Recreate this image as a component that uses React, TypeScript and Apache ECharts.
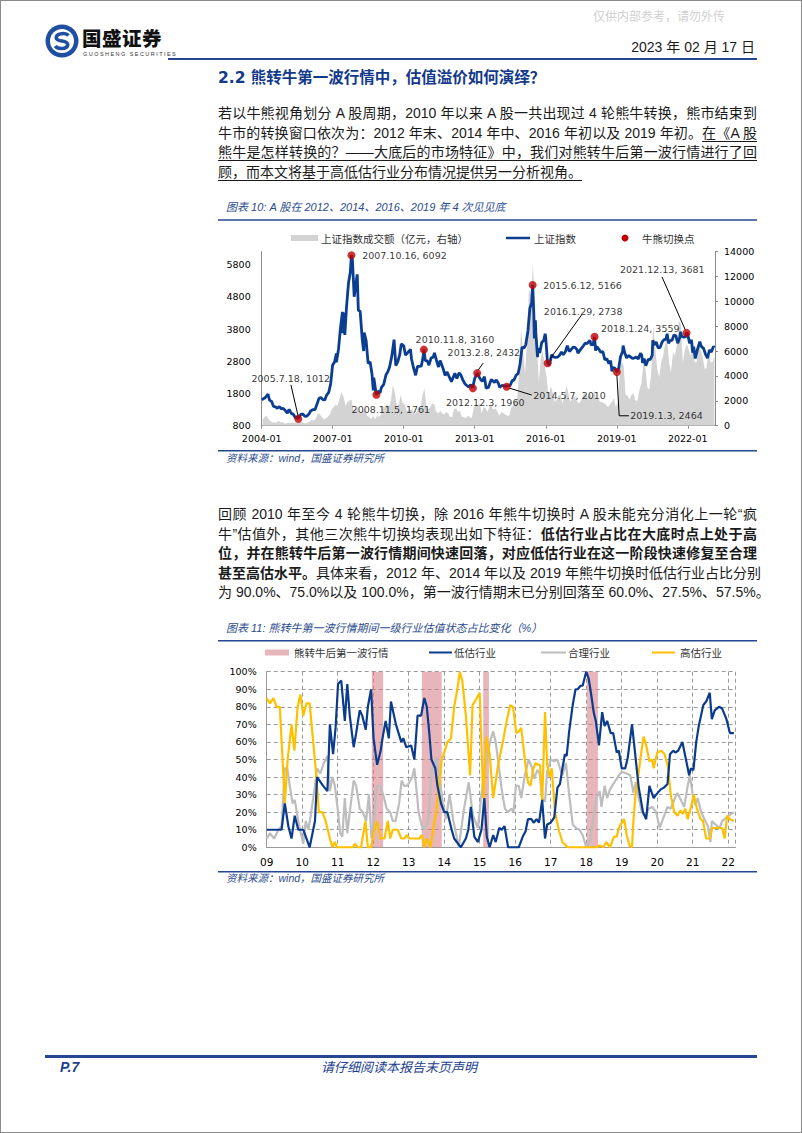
import React, { useEffect, useRef } from "react";
import * as echarts from "echarts";

const NUM_FONT = '"DejaVu Sans", Verdana, sans-serif';
const CJK_FONT = '"Noto Sans CJK SC", sans-serif';
const LAT_CJK = '"Liberation Sans", Arial, "Noto Sans CJK SC", sans-serif';
const RULE_BLUE = "#26478f";
const CAPTION_BLUE = "#2b4c8e";

// ---------------- Chart 10 data ----------------
const shIndex: [string, number][] = [
  ["2004-01-02", 1600], ["2004-02-27", 1675], ["2004-04-07", 1783], ["2004-04-30", 1595], ["2004-05-31", 1555], ["2004-06-30", 1400],
  ["2004-07-30", 1386], ["2004-08-31", 1342], ["2004-09-30", 1396], ["2004-10-29", 1320], ["2004-11-30", 1340], ["2004-12-31", 1267],
  ["2005-01-31", 1191], ["2005-02-28", 1306], ["2005-03-31", 1181], ["2005-04-29", 1159], ["2005-05-31", 1060], ["2005-06-06", 1034],
  ["2005-06-30", 1080], ["2005-07-18", 1012], ["2005-07-29", 1083], ["2005-08-31", 1162], ["2005-09-30", 1155], ["2005-10-28", 1092],
  ["2005-11-30", 1099], ["2005-12-30", 1161],
  ["2006-01-25", 1258], ["2006-02-28", 1299], ["2006-03-31", 1299], ["2006-04-28", 1440], ["2006-05-31", 1642], ["2006-06-30", 1672],
  ["2006-07-31", 1612], ["2006-08-31", 1601], ["2006-09-29", 1752], ["2006-10-31", 1837], ["2006-11-30", 2099], ["2006-12-29", 2675],
  ["2007-01-31", 2786], ["2007-02-26", 3040], ["2007-02-27", 2771], ["2007-03-30", 3183], ["2007-04-30", 3841], ["2007-05-29", 4335],
  ["2007-06-04", 3670], ["2007-06-20", 4311], ["2007-07-05", 3615], ["2007-07-31", 4471], ["2007-08-31", 5218], ["2007-09-28", 5552],
  ["2007-10-16", 6092], ["2007-10-31", 5954], ["2007-11-28", 4803], ["2007-12-28", 5261],
  ["2008-01-14", 5497], ["2008-01-31", 4383], ["2008-02-29", 4348], ["2008-03-31", 3472], ["2008-04-22", 3116], ["2008-04-30", 3693],
  ["2008-05-30", 3433], ["2008-06-30", 2736], ["2008-07-31", 2775], ["2008-08-29", 2397], ["2008-09-18", 1895], ["2008-09-26", 2293],
  ["2008-10-31", 1800], ["2008-11-05", 1761], ["2008-11-28", 1871], ["2008-12-31", 1821],
  ["2009-01-23", 1990], ["2009-02-27", 2082], ["2009-03-31", 2373], ["2009-04-30", 2477], ["2009-05-27", 2632], ["2009-06-30", 2959],
  ["2009-08-04", 3471], ["2009-08-31", 2667], ["2009-09-30", 2779], ["2009-10-30", 2996], ["2009-11-24", 3338], ["2009-12-31", 3277],
  ["2010-01-29", 2989], ["2010-02-26", 3051], ["2010-04-14", 3166], ["2010-04-30", 2870], ["2010-05-31", 2592], ["2010-07-02", 2363],
  ["2010-07-30", 2638], ["2010-08-31", 2639], ["2010-09-30", 2656], ["2010-10-29", 2979], ["2010-11-08", 3160], ["2010-11-30", 2820],
  ["2010-12-31", 2808],
  ["2011-01-25", 2677], ["2011-02-28", 2905], ["2011-03-31", 2928], ["2011-04-18", 3057], ["2011-05-31", 2743], ["2011-06-20", 2622],
  ["2011-07-15", 2820], ["2011-08-31", 2568], ["2011-09-30", 2359], ["2011-10-31", 2468], ["2011-11-30", 2333], ["2011-12-31", 2199],
  ["2012-01-06", 2163], ["2012-02-29", 2428], ["2012-03-30", 2262], ["2012-05-04", 2440], ["2012-05-31", 2373], ["2012-06-29", 2225],
  ["2012-07-31", 2103], ["2012-08-31", 2047], ["2012-09-26", 2004], ["2012-10-31", 2069], ["2012-11-30", 1980], ["2012-12-03", 1960],
  ["2012-12-31", 2269],
  ["2013-01-31", 2385], ["2013-02-08", 2432], ["2013-03-29", 2237], ["2013-04-26", 2178], ["2013-05-29", 2324], ["2013-06-25", 1959],
  ["2013-07-31", 1994], ["2013-09-12", 2237], ["2013-10-31", 2141], ["2013-11-29", 2220], ["2013-12-31", 2116],
  ["2014-01-20", 1991], ["2014-02-28", 2056], ["2014-03-31", 2033], ["2014-04-30", 2026], ["2014-05-07", 2010], ["2014-05-30", 2039],
  ["2014-06-30", 2048], ["2014-07-31", 2202], ["2014-08-29", 2217], ["2014-09-30", 2364], ["2014-10-31", 2420], ["2014-11-28", 2683],
  ["2014-12-31", 3235],
  ["2015-01-30", 3210], ["2015-02-27", 3310], ["2015-03-31", 3748], ["2015-04-30", 4442], ["2015-05-28", 4620], ["2015-06-12", 5166],
  ["2015-06-30", 4277], ["2015-07-08", 3507], ["2015-07-24", 4070], ["2015-07-31", 3664], ["2015-08-26", 2927], ["2015-08-31", 3206],
  ["2015-09-30", 3053], ["2015-10-30", 3383], ["2015-11-30", 3445], ["2015-12-22", 3651], ["2015-12-31", 3539],
  ["2016-01-29", 2738], ["2016-02-29", 2688], ["2016-03-31", 3004], ["2016-04-29", 2938], ["2016-05-31", 2917], ["2016-06-30", 2930],
  ["2016-07-29", 2979], ["2016-08-31", 3085], ["2016-09-30", 3005], ["2016-10-31", 3100], ["2016-11-29", 3282], ["2016-12-30", 3104],
  ["2017-01-26", 3159], ["2017-02-28", 3242], ["2017-03-31", 3223], ["2017-04-28", 3155], ["2017-05-10", 3052], ["2017-06-30", 3192],
  ["2017-07-31", 3273], ["2017-08-31", 3361], ["2017-09-29", 3349], ["2017-11-13", 3447], ["2017-11-30", 3317], ["2017-12-29", 3307],
  ["2018-01-24", 3559], ["2018-02-09", 3129], ["2018-02-28", 3259], ["2018-03-30", 3169], ["2018-04-27", 3082], ["2018-05-31", 3095],
  ["2018-06-29", 2847], ["2018-07-31", 2876], ["2018-08-31", 2725], ["2018-09-28", 2821], ["2018-10-18", 2486], ["2018-10-31", 2603],
  ["2018-11-30", 2588], ["2018-12-28", 2494],
  ["2019-01-03", 2464], ["2019-01-31", 2585], ["2019-02-28", 2941], ["2019-03-29", 3091], ["2019-04-08", 3288], ["2019-04-30", 3078],
  ["2019-05-31", 2899], ["2019-06-28", 2979], ["2019-07-31", 2933], ["2019-08-30", 2886], ["2019-09-30", 2905], ["2019-10-31", 2929],
  ["2019-11-29", 2872], ["2019-12-31", 3050],
  ["2020-01-23", 2977], ["2020-02-03", 2746], ["2020-02-28", 2880], ["2020-03-23", 2660], ["2020-04-30", 2860], ["2020-05-29", 2852],
  ["2020-06-30", 2985], ["2020-07-09", 3451], ["2020-07-31", 3310], ["2020-08-31", 3396], ["2020-09-30", 3218], ["2020-10-30", 3225],
  ["2020-11-30", 3392], ["2020-12-31", 3473],
  ["2021-01-29", 3483], ["2021-02-18", 3655], ["2021-03-09", 3360], ["2021-03-31", 3442], ["2021-04-30", 3447], ["2021-05-31", 3615],
  ["2021-06-30", 3591], ["2021-07-28", 3361], ["2021-08-31", 3544], ["2021-09-13", 3715], ["2021-09-30", 3568], ["2021-10-29", 3547],
  ["2021-11-30", 3564], ["2021-12-13", 3681], ["2021-12-31", 3640],
  ["2022-01-28", 3361], ["2022-02-28", 3462], ["2022-03-15", 3064], ["2022-03-31", 3252], ["2022-04-26", 2886], ["2022-05-31", 3186],
  ["2022-07-04", 3405], ["2022-07-29", 3253], ["2022-08-31", 3202], ["2022-09-30", 3024], ["2022-10-31", 2893], ["2022-11-30", 3151],
  ["2022-12-30", 3089], ["2023-01-31", 3255], ["2023-02-17", 3224],
];

// monthly turnover (亿元), starting 2004-01
const turnoverStartYear = 2004;
const turnoverMonthly: number[] = [
  500, 700, 800, 500, 350, 250, 250, 250, 400, 300, 250, 200, // 2004
  180, 250, 220, 250, 220, 350, 250, 350, 300, 200, 200, 250, // 2005
  350, 450, 400, 600, 1000, 900, 700, 500, 600, 700, 900, 1300, // 2006
  1500, 1700, 1600, 2200, 2700, 2300, 1600, 1900, 2000, 2100, 1300, 1200, // 2007
  1500, 1000, 1100, 1300, 1200, 800, 700, 500, 800, 500, 800, 700, // 2008
  900, 1500, 1500, 1700, 1500, 2000, 3300, 2600, 1600, 1700, 2500, 1800, // 2009
  1700, 1200, 1200, 1300, 1300, 900, 1100, 1500, 1300, 2500, 3000, 1500, // 2010
  1300, 1500, 1800, 1700, 1100, 1000, 1200, 1000, 900, 1100, 1000, 700, // 2011
  700, 1300, 1400, 1100, 1200, 700, 700, 600, 800, 700, 600, 1400, // 2012
  1700, 1600, 1800, 1000, 1500, 1400, 1100, 1600, 1600, 1300, 1400, 1100, // 2013
  800, 1100, 1000, 900, 800, 800, 1500, 1600, 2000, 2100, 4500, 7800, // 2014
  6000, 4200, 7000, 11000, 10500, 13000, 9000, 6500, 3500, 5500, 6000, 4800, // 2015
  3800, 2200, 3200, 2700, 1900, 2100, 2400, 2500, 1800, 2300, 3200, 2600, // 2016
  1900, 2200, 2300, 2100, 1800, 1900, 2200, 2700, 2400, 2300, 2700, 2100, // 2017
  2900, 2100, 2200, 1900, 1900, 1800, 1700, 1500, 1700, 1900, 2200, 1500, // 2018
  1800, 4400, 5200, 4800, 2500, 2400, 2100, 2500, 2600, 2000, 2000, 2900, // 2019
  3400, 5000, 4700, 3100, 2900, 4300, 8000, 6300, 4600, 3900, 5100, 5600, // 2020
  6600, 7000, 5100, 4300, 5900, 5600, 6600, 8500, 8100, 5100, 6100, 6600, // 2021
  6100, 5600, 7000, 5100, 5100, 6600, 6100, 5600, 4600, 4600, 6100, 5100, // 2022
  5100, 5600, // 2023
];

const switchDates = ["2005.7.18", "2007.10.16", "2008.11.5", "2010.11.8", "2012.12.3", "2013.2.8", "2014.5.7", "2015.6.12", "2016.1.29", "2018.1.24", "2019.1.3", "2021.12.13"];
const switchValues = [1012, 6092, 1761, 3160, 1960, 2432, 2010, 5166, 2738, 3559, 2464, 3681];

// label placement (pixels relative to each dot) - layout only
const switchLabelPos: { dx: number; dy: number; align: string }[] = [
  { dx: -7.5, dy: -40, align: "center" },
  { dx: 10.7, dy: 0, align: "left" },
  { dx: 14.5, dy: 14.3, align: "center" },
  { dx: 31, dy: -10.6, align: "center" },
  { dx: 12.3, dy: 14, align: "center" },
  { dx: 6.7, dy: -20.6, align: "center" },
  { dx: 26.6, dy: 8.6, align: "left" },
  { dx: 10.6, dy: 0, align: "left" },
  { dx: -3.7, dy: -52, align: "left" },
  { dx: 6.4, dy: -8, align: "left" },
  { dx: 13.3, dy: 43.7, align: "left" },
  { dx: -24.3, dy: -63.4, align: "center" },
];
const switchLeaders: (number[][] | null)[] = [
  [[0, -2], [-7.4, -34]],
  null,
  null,
  null,
  null,
  [[1, -3], [6, -10]],
  [[3, 1.5], [25, 8.3]],
  null,
  [[2.3, -4], [34, -48.3]],
  null,
  [[0, 3], [2.3, 43.7], [12, 43.7]],
  [[-1.3, -3], [-24.6, -56]],
];

// ---------------- Chart 11 data ----------------
const lowShare: [number, number][] = [
  [2009.0, 10], [2009.42, 10], [2009.51, 25], [2009.61, 12], [2009.7, 5], [2009.79, 18], [2009.89, 10], [2010.03, 10],
  [2010.21, 0], [2010.36, 15], [2010.42, 40], [2010.59, 35], [2010.71, 32], [2010.78, 70], [2010.87, 53], [2010.94, 68],
  [2011.01, 93], [2011.1, 95], [2011.2, 72], [2011.27, 93], [2011.34, 75], [2011.45, 57], [2011.52, 65], [2011.62, 78],
  [2011.69, 75], [2011.79, 67], [2011.85, 80], [2011.94, 90], [2012.01, 62], [2012.11, 47], [2012.21, 55], [2012.27, 63],
  [2012.35, 72], [2012.44, 62], [2012.5, 83], [2012.64, 70], [2012.79, 60], [2012.85, 62], [2012.93, 57], [2013.07, 58],
  [2013.16, 50], [2013.25, 75], [2013.35, 75], [2013.44, 85], [2013.51, 80], [2013.58, 65], [2013.64, 50], [2013.75, 45],
  [2013.81, 35], [2013.91, 25], [2014.0, 20], [2014.09, 20], [2014.21, 10], [2014.28, 5], [2014.47, 0], [2014.61, 5],
  [2014.68, 10], [2014.75, 23], [2014.85, 6], [2014.95, 3], [2015.05, 10], [2015.13, 28], [2015.2, 6], [2015.28, 0],
  [2015.38, 7], [2015.45, 3], [2015.55, 11], [2015.62, 10], [2015.7, 12], [2015.8, 0], [2016.1, 0], [2016.21, 6],
  [2016.29, 9], [2016.36, 16], [2016.46, 16], [2016.52, 14], [2016.6, 16], [2016.67, 14], [2016.76, 27], [2016.84, 5],
  [2016.9, 13], [2017.0, 14], [2017.1, 17], [2017.19, 34], [2017.26, 36], [2017.33, 45], [2017.4, 53], [2017.45, 52],
  [2017.52, 66], [2017.62, 81], [2017.7, 90], [2017.76, 90], [2017.84, 92], [2017.9, 92], [2018.0, 100], [2018.07, 96],
  [2018.14, 87], [2018.21, 77], [2018.27, 72], [2018.36, 58], [2018.45, 77], [2018.52, 69], [2018.59, 72], [2018.69, 65],
  [2018.76, 65], [2018.86, 54], [2018.92, 55], [2019.0, 45], [2019.1, 45], [2019.17, 51], [2019.29, 70], [2019.38, 53],
  [2019.48, 34], [2019.6, 20], [2019.69, 16], [2019.78, 35], [2019.9, 28], [2019.97, 30], [2020.1, 33], [2020.19, 34],
  [2020.29, 36], [2020.36, 53], [2020.45, 55], [2020.51, 54], [2020.59, 55], [2020.71, 60], [2020.86, 45], [2020.9, 41],
  [2020.95, 45], [2021.02, 44], [2021.1, 60], [2021.17, 69], [2021.3, 81], [2021.38, 83], [2021.48, 88], [2021.54, 73],
  [2021.62, 78], [2021.74, 80], [2021.83, 79], [2021.95, 73], [2022.05, 65], [2022.16, 65],
];
const fairShare: [number, number][] = [
  [2009.0, 5], [2009.09, 8], [2009.21, 5], [2009.33, 10], [2009.42, 12], [2009.51, 45], [2009.58, 45], [2009.65, 35],
  [2009.73, 25], [2009.79, 27], [2009.89, 15], [2009.96, 8], [2010.03, 2], [2010.1, 15], [2010.17, 10], [2010.24, 18],
  [2010.36, 35], [2010.42, 45], [2010.51, 42], [2010.61, 48], [2010.71, 52], [2010.78, 32], [2010.85, 40], [2010.92, 35],
  [2011.01, 20], [2011.07, 8], [2011.13, 6], [2011.2, 28], [2011.27, 8], [2011.34, 20], [2011.45, 38], [2011.52, 35],
  [2011.62, 22], [2011.71, 20], [2011.8, 15], [2011.88, 30], [2011.95, 5], [2012.02, 15], [2012.1, 35], [2012.2, 35],
  [2012.28, 30], [2012.38, 22], [2012.48, 20], [2012.55, 15], [2012.63, 15], [2012.73, 25], [2012.8, 38], [2012.87, 35],
  [2012.95, 35], [2013.05, 38], [2013.1, 40], [2013.16, 45], [2013.28, 20], [2013.37, 12], [2013.45, 10], [2013.55, 15],
  [2013.65, 44], [2013.79, 51], [2013.95, 27], [2014.05, 16], [2014.15, 30], [2014.25, 16], [2014.41, 0], [2014.55, 21],
  [2014.69, 37], [2014.81, 18], [2014.95, 11], [2015.05, 30], [2015.14, 45], [2015.29, 60], [2015.38, 66], [2015.45, 60],
  [2015.52, 49], [2015.62, 33], [2015.71, 22], [2015.79, 20], [2015.89, 22], [2015.95, 20], [2016.02, 35], [2016.1, 35],
  [2016.17, 28], [2016.27, 41], [2016.38, 50], [2016.46, 46], [2016.54, 39], [2016.62, 44], [2016.69, 42], [2016.76, 28],
  [2016.84, 26], [2016.9, 43], [2017.0, 50], [2017.1, 49], [2017.19, 50], [2017.26, 45], [2017.33, 41], [2017.43, 48],
  [2017.52, 30], [2017.62, 13], [2017.71, 11], [2017.81, 10], [2017.9, 7], [2018.0, 0], [2018.1, 3], [2018.19, 15],
  [2018.29, 28], [2018.38, 32], [2018.43, 23], [2018.52, 35], [2018.59, 28], [2018.67, 33], [2018.76, 36], [2018.86, 39],
  [2018.92, 41], [2019.0, 43], [2019.14, 42], [2019.24, 41], [2019.33, 31], [2019.4, 37], [2019.48, 28], [2019.57, 20],
  [2019.67, 18], [2019.76, 22], [2019.86, 23], [2019.97, 20], [2020.07, 11], [2020.16, 16], [2020.29, 23], [2020.38, 22],
  [2020.5, 28], [2020.57, 31], [2020.69, 26], [2020.76, 23], [2020.86, 35], [2020.92, 41], [2021.0, 30], [2021.07, 24],
  [2021.14, 28], [2021.24, 20], [2021.33, 16], [2021.43, 12], [2021.5, 3], [2021.54, 15], [2021.64, 13], [2021.76, 11],
  [2021.83, 15], [2021.9, 16], [2022.0, 18], [2022.16, 20],
];
const highShare: [number, number][] = [
  [2009.0, 85], [2009.09, 82], [2009.19, 85], [2009.28, 80], [2009.37, 80], [2009.51, 25], [2009.59, 50], [2009.7, 70],
  [2009.78, 55], [2009.87, 80], [2009.95, 87], [2010.03, 75], [2010.12, 82], [2010.21, 82], [2010.31, 60], [2010.4, 40],
  [2010.47, 20], [2010.57, 20], [2010.66, 15], [2010.78, 5], [2010.85, 0], [2010.92, 3], [2010.98, 0], [2011.43, 0],
  [2011.48, 2], [2011.57, 0], [2011.66, 0], [2011.78, 15], [2011.85, 0], [2011.94, 0], [2012.01, 8], [2012.1, 15],
  [2012.21, 5], [2012.32, 5], [2012.41, 15], [2012.48, 5], [2012.55, 10], [2012.69, 10], [2012.79, 5], [2012.88, 5],
  [2012.94, 7], [2013.02, 5], [2013.16, 5], [2013.3, 5], [2013.37, 7], [2013.44, 0], [2013.51, 5], [2013.61, 0],
  [2013.69, 10], [2013.77, 20], [2013.83, 30], [2013.93, 50], [2014.02, 55], [2014.09, 60], [2014.19, 62], [2014.28, 80],
  [2014.37, 90], [2014.44, 100], [2014.51, 95], [2014.61, 75], [2014.73, 41], [2014.8, 81], [2014.92, 85], [2015.0, 88],
  [2015.1, 28], [2015.19, 63], [2015.28, 53], [2015.38, 28], [2015.52, 47], [2015.67, 62], [2015.76, 72], [2015.86, 81],
  [2015.94, 80], [2016.03, 65], [2016.1, 66], [2016.17, 68], [2016.29, 47], [2016.36, 37], [2016.43, 35], [2016.5, 44],
  [2016.57, 48], [2016.64, 47], [2016.7, 47], [2016.76, 26], [2016.84, 77], [2016.9, 47], [2016.97, 40], [2017.03, 45],
  [2017.12, 20], [2017.24, 9], [2017.33, 3], [2017.48, 0], [2018.29, 0], [2018.38, 1], [2018.48, 0], [2018.57, 3],
  [2018.67, 0], [2018.78, 6], [2018.86, 6], [2018.92, 11], [2018.97, 13], [2019.07, 16], [2019.14, 7], [2019.22, 1],
  [2019.29, 0], [2019.33, 15], [2019.38, 28], [2019.48, 43], [2019.55, 54], [2019.62, 63], [2019.69, 58], [2019.78, 49],
  [2019.86, 50], [2019.9, 45], [2020.0, 54], [2020.12, 55], [2020.21, 53], [2020.31, 45], [2020.38, 30], [2020.48, 20],
  [2020.57, 18], [2020.65, 21], [2020.72, 19], [2020.79, 22], [2020.86, 16], [2020.95, 23], [2021.03, 30], [2021.12, 22],
  [2021.22, 16], [2021.29, 15], [2021.38, 5], [2021.48, 5], [2021.55, 11], [2021.67, 11], [2021.83, 11], [2021.9, 5],
  [2021.97, 18], [2022.05, 16], [2022.16, 15],
];
const firstWavePeriods: [number, number][] = [
  [2011.96, 2012.28], [2013.37, 2013.93], [2015.1, 2015.26], [2018.02, 2018.33],
];

const toYear = (s: string) => {
  const p = s.split(/[-.]/).map(Number);
  return p[0] + (p[1] - 1) / 12 + ((p[2] || 1) - 1) / 365;
};

const txt = (x: number, y: number, text: string, font: string, fill: string, align = "left") => ({
  type: "text",
  x,
  y,
  style: { text, font, fill, align, verticalAlign: "middle", textAlign: align, textVerticalAlign: "middle" },
});
const hline = (x1: number, x2: number, y: number, stroke: string, w: number) => ({
  type: "line",
  shape: { x1, y1: y, x2, y2: y },
  style: { stroke, lineWidth: w },
});

const CAPTION_FONT = 'italic 11px "Liberation Sans", "Noto Sans CJK SC", sans-serif';
const LEGEND_FONT = '10.5px "Noto Sans CJK SC", sans-serif';
const SOURCE_FONT = 'italic 10.5px "Liberation Sans", "Noto Sans CJK SC", sans-serif';

function graphic1() {
  return [
    txt(226, 12, "图表 10: A 股在 2012、2014、2016、2019 年 4 次见见底", CAPTION_FONT, CAPTION_BLUE),
    hline(218, 757, 25, RULE_BLUE, 1.5),
    { type: "rect", shape: { x: 291, y: 40, width: 27, height: 6 }, style: { fill: "#d3d3d3" } },
    txt(321, 43, "上证指数成交额（亿元，右轴）", LEGEND_FONT, "#333"),
    hline(506, 530, 43, "#0b3d91", 2.5),
    txt(534, 43, "上证指数", LEGEND_FONT, "#333"),
    { type: "circle", shape: { cx: 625, cy: 43, r: 3.5 }, style: { fill: "#c00000" } },
    txt(642, 43, "牛熊切换点", LEGEND_FONT, "#333"),
    hline(218, 757, 255.7, RULE_BLUE, 1.5),
    txt(226, 262.5, "资料来源：wind，国盛证券研究所", SOURCE_FONT, CAPTION_BLUE),
  ];
}

function graphic2() {
  return [
    txt(226, 12.5, "图表 11: 熊转牛第一波行情期间一级行业估值状态占比变化（%）", CAPTION_FONT, CAPTION_BLUE),
    hline(218, 757, 25.7, RULE_BLUE, 1.5),
    { type: "rect", shape: { x: 265, y: 34.5, width: 24, height: 6 }, style: { fill: "#e8b5ba" } },
    txt(294, 37.5, "熊转牛后第一波行情", LEGEND_FONT, "#333"),
    hline(429, 452, 37.5, "#0b3b8c", 2),
    txt(454, 37.5, "低估行业", LEGEND_FONT, "#333"),
    hline(541, 566, 37.5, "#bdbdbd", 2),
    txt(568, 37.5, "合理行业", LEGEND_FONT, "#333"),
    hline(652, 675, 37.5, "#ffc000", 2),
    txt(680, 37.5, "高估行业", LEGEND_FONT, "#333"),
    hline(218, 757, 256.7, RULE_BLUE, 1.5),
    txt(226, 262.5, "资料来源：wind，国盛证券研究所", SOURCE_FONT, CAPTION_BLUE),
  ];
}

function option1() {
  const axisGray = "#8c8c8c";
  const numLabel = { fontFamily: NUM_FONT, fontSize: 9.5, color: "#000" };
  const plain = (v: number) => String(v);
  return {
    animation: false,
    grid: { left: 261.7, top: 56.7, width: 453.3, height: 174 },
    xAxis: {
      type: "value",
      min: 2004,
      max: 2023.15,
      interval: 3,
      axisLine: { show: true, lineStyle: { color: axisGray } },
      axisTick: { show: true, length: 3, lineStyle: { color: axisGray } },
      splitLine: { show: false },
      axisLabel: { ...numLabel, margin: 8, showMaxLabel: false, formatter: (v: number) => `${v}-01` },
    },
    yAxis: [
      {
        type: "value",
        min: 800,
        max: 6200,
        interval: 1000,
        axisLine: { show: true, lineStyle: { color: axisGray } },
        axisTick: { show: false },
        splitLine: { show: false },
        axisLabel: { ...numLabel, margin: 11, showMaxLabel: false, formatter: plain },
      },
      {
        type: "value",
        position: "right",
        min: 0,
        max: 14000,
        interval: 2000,
        axisLine: { show: true, lineStyle: { color: axisGray } },
        axisTick: { show: true, length: 3, lineStyle: { color: axisGray } },
        splitLine: { show: false },
        axisLabel: { ...numLabel, margin: 9, formatter: plain },
      },
    ],
    graphic: graphic1(),
    series: [
      {
        type: "line",
        name: "上证指数成交额（亿元，右轴）",
        yAxisIndex: 1,
        symbol: "none",
        data: turnoverMonthly.map((v, i) => [turnoverStartYear + (i + 0.5) / 12, v]),
        lineStyle: { width: 0, opacity: 0 },
        areaStyle: { color: "#d3d3d3", opacity: 1 },
        z: 1,
      },
      {
        type: "line",
        name: "上证指数",
        symbol: "none",
        data: shIndex.map(([d, v]) => [toYear(d), v]),
        lineStyle: { color: "#0b3d91", width: 2.8 },
        z: 2,
      },
      {
        type: "scatter",
        name: "牛熊切换点",
        symbolSize: 8,
        itemStyle: { color: "#c00000" },
        z: 3,
        data: switchDates.map((d, i) => ({
          value: [toYear(d), switchValues[i]],
          label: {
            show: true,
            position: "inside",
            offset: [switchLabelPos[i].dx, switchLabelPos[i].dy],
            align: switchLabelPos[i].align,
            verticalAlign: "middle",
            color: "#000",
            fontFamily: NUM_FONT,
            fontSize: 9.5,
            formatter: `${d}, ${switchValues[i]}`,
          },
        })),
      },
    ],
  };
}

function option2() {
  const gridGray = "#9a9a9a";
  const numLabel = { fontFamily: NUM_FONT, color: "#000" };
  return {
    animation: false,
    grid: { left: 266.7, top: 56.7, width: 468.6, height: 175.6 },
    xAxis: {
      type: "value",
      min: 2009,
      max: 2022.2,
      interval: 1,
      axisLine: { show: true, lineStyle: { color: gridGray } },
      axisTick: { show: false },
      splitLine: { show: true, lineStyle: { color: gridGray, type: [4, 3], width: 1 } },
      axisLabel: { ...numLabel, fontSize: 10.5, margin: 9, showMaxLabel: false, formatter: (v: number) => String(v).slice(2) },
    },
    yAxis: {
      type: "value",
      min: 0,
      max: 100,
      interval: 10,
      axisLine: { show: true, lineStyle: { color: gridGray } },
      axisTick: { show: false },
      splitLine: { show: true, lineStyle: { color: gridGray, type: [4, 3], width: 1 } },
      axisLabel: { ...numLabel, fontSize: 9.5, margin: 10, formatter: "{value}%" },
    },
    graphic: graphic2(),
    series: [
      {
        type: "line",
        name: "熊转牛后第一波行情",
        data: [],
        z: 1,
        markArea: {
          silent: true,
          itemStyle: { color: "rgba(214,120,130,0.55)" },
          data: firstWavePeriods.map(([a, b]) => [{ xAxis: a }, { xAxis: b }]),
        },
      },
      { type: "line", name: "合理行业", symbol: "none", data: fairShare, lineStyle: { color: "#bdbdbd", width: 2.2 }, z: 2 },
      { type: "line", name: "高估行业", symbol: "none", data: highShare, lineStyle: { color: "#ffc000", width: 2.2 }, z: 3 },
      { type: "line", name: "低估行业", symbol: "none", data: lowShare, lineStyle: { color: "#0b3b8c", width: 2.2 }, z: 4 },
    ],
  };
}

const lineBase: React.CSSProperties = {
  position: "absolute",
  left: 218,
  width: 539,
  height: 20,
  lineHeight: "20px",
  fontSize: 14,
  color: "#1a1a1a",
  fontFamily: LAT_CJK,
  textAlign: "justify",
  whiteSpace: "nowrap",
};

function TL({ y, children, last }: { y: number; children: any; last?: boolean }) {
  return (
    <div style={{ ...lineBase, top: y - 10, textAlignLast: (last ? "left" : "justify") as any }}>{children}</div>
  );
}

const U = ({ children }: { children: any }) => (
  <span style={{ textDecoration: "underline", textUnderlineOffset: "3px" }}>{children}</span>
);
const B = ({ children }: { children: any }) => <span style={{ fontWeight: 700 }}>{children}</span>;

export default function App() {
  const ref1 = useRef<HTMLDivElement>(null);
  const ref2 = useRef<HTMLDivElement>(null);

  useEffect(() => {
    document.body.style.margin = "0";
    const c1 = echarts.init(ref1.current!, undefined, { renderer: "svg" });
    c1.setOption(option1() as any);
    const leaders: any[] = [];
    switchDates.forEach((d, i) => {
      const rel = switchLeaders[i];
      if (!rel) return;
      const p = c1.convertToPixel({ xAxisIndex: 0, yAxisIndex: 0 }, [toYear(d), switchValues[i]]) as number[];
      leaders.push({
        type: "polyline",
        z: 2.5,
        shape: { points: rel.map(([dx, dy]) => [p[0] + dx, p[1] + dy]) },
        style: { stroke: "#000", lineWidth: 1, fill: null },
      });
    });
    c1.setOption({ graphic: [...graphic1(), ...leaders] } as any);

    const c2 = echarts.init(ref2.current!, undefined, { renderer: "svg" });
    c2.setOption(option2() as any);
    return () => {
      c1.dispose();
      c2.dispose();
    };
  }, []);

  return (
    <div style={{ position: "absolute", left: 0, top: 0, width: 802, height: 1133, background: "#fff", overflow: "hidden" }}>
      {/* header */}
      <div style={{ position: "absolute", left: 593, top: 8, fontSize: 12, lineHeight: "16px", color: "#d0d0d0", fontFamily: CJK_FONT, whiteSpace: "nowrap" }}>
        仅供内部参考，请勿外传
      </div>
      <svg style={{ position: "absolute", left: 45, top: 24 }} width={34} height={34} viewBox="0 0 34 34">
        <circle cx="17" cy="17" r="16.5" fill="#1f4ea3" />
        <circle cx="17" cy="17" r="12" fill="#fff" />
        <path d="M23.5 11.5 C 21 8.5, 11 8.8, 11.3 14 C 11.6 18.5, 22.7 15.5, 22.7 20.5 C 22.7 25.5, 12.5 25.5, 10.3 22" stroke="#1f4ea3" strokeWidth="3.6" fill="none" />
      </svg>
      <div style={{ position: "absolute", left: 82, top: 27, fontSize: 19.5, lineHeight: "21px", height: 21, fontWeight: 900, color: "#111", fontFamily: CJK_FONT, letterSpacing: 0.5, whiteSpace: "nowrap" }}>
        国盛证券
      </div>
      <div style={{ position: "absolute", left: 83, top: 51, fontSize: 5.5, lineHeight: "7px", height: 7, color: "#333", fontFamily: '"Liberation Sans", sans-serif', letterSpacing: 1.45, whiteSpace: "nowrap" }}>
        GUOSHENG SECURITIES
      </div>
      <div style={{ position: "absolute", left: 555, width: 200, top: 38, fontSize: 14, lineHeight: "18px", textAlign: "right", color: "#1a1a1a", fontFamily: '"Liberation Sans Narrow", "Liberation Sans", "Noto Sans CJK SC", sans-serif', whiteSpace: "nowrap" }}>
        2023 年 02 月 17 日
      </div>
      <div style={{ position: "absolute", left: 168, top: 58, width: 589, height: 2, background: RULE_BLUE }} />

      {/* section title */}
      <div style={{ position: "absolute", left: 218, top: 68, fontSize: 15.5, lineHeight: "20px", fontWeight: 700, color: "#12398a", fontFamily: '"DejaVu Sans", "Noto Sans CJK SC", sans-serif', whiteSpace: "nowrap" }}>
        2.2 熊转牛第一波行情中，估值溢价如何演绎？
      </div>

      {/* paragraph 1 */}
      <TL y={113}>若以牛熊视角划分 A 股周期，2010 年以来 A 股一共出现过 4 轮熊牛转换，熊市结束到</TL>
      <TL y={132.5}>
        牛市的转换窗口依次为：2012 年末、2014 年中、2016 年初以及 2019 年初。<U>在《A 股</U>
      </TL>
      <TL y={152}>
        <U>熊牛是怎样转换的？——大底后的市场特征》中，我们对熊转牛后第一波行情进行了回</U>
      </TL>
      <TL y={171.5} last>
        <U>顾，而本文将基于高低估行业分布情况提供另一分析视角。</U>
      </TL>

      {/* chart 10 */}
      <div ref={ref1} style={{ position: "absolute", left: 0, top: 195, width: 802, height: 275 }} />

      {/* paragraph 2 */}
      <TL y={514}>回顾 2010 年至今 4 轮熊牛切换，除 2016 年熊牛切换时 A 股未能充分消化上一轮“疯</TL>
      <TL y={533.5}>
        牛”估值外，其他三次熊牛切换均表现出如下特征：<B>低估行业占比在大底时点上处于高</B>
      </TL>
      <TL y={553}>
        <B>位，并在熊转牛后第一波行情期间快速回落，对应低估行业在这一阶段快速修复至合理</B>
      </TL>
      <TL y={572.5}>
        <B>甚至高估水平。</B>具体来看，2012 年、2014 年以及 2019 年熊牛切换时低估行业占比分别
      </TL>
      <TL y={592}>为 90.0%、75.0%以及 100.0%，第一波行情期末已分别回落至 60.0%、27.5%、57.5%。</TL>

      {/* chart 11 */}
      <div ref={ref2} style={{ position: "absolute", left: 0, top: 615, width: 802, height: 275 }} />

      {/* footer */}
      <div style={{ position: "absolute", left: 45, top: 1055, width: 712, height: 2.5, background: RULE_BLUE }} />
      <div style={{ position: "absolute", left: 60, top: 1058, fontSize: 14, lineHeight: "18px", fontWeight: 700, fontStyle: "italic", color: "#1d3f8f", fontFamily: '"Liberation Sans", sans-serif' }}>
        P.7
      </div>
      <div style={{ position: "absolute", left: 299, width: 200, top: 1058, fontSize: 13, lineHeight: "18px", fontStyle: "italic", textAlign: "center", color: "#1d3f8f", fontFamily: CJK_FONT, whiteSpace: "nowrap" }}>
        请仔细阅读本报告末页声明
      </div>

      {/* page frame */}
      <div style={{ position: "absolute", left: 0, top: 0, width: 802, height: 1133, boxSizing: "border-box", border: "1px solid #8a8a8a", pointerEvents: "none" }} />
    </div>
  );
}
